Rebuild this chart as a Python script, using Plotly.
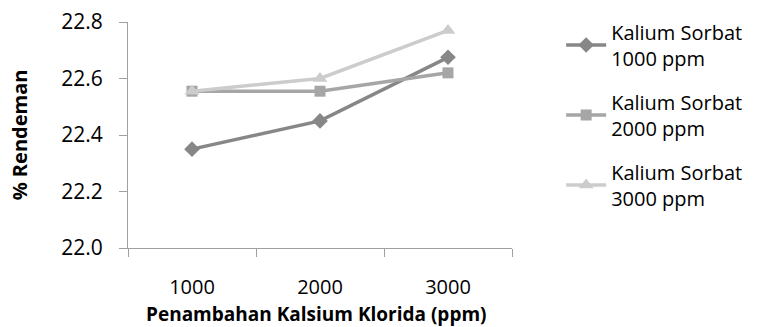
import plotly.graph_objects as go

categories = ["1000", "2000", "3000"]
s1000 = [22.35, 22.45, 22.675]
s2000 = [22.555, 22.555, 22.62]
s3000 = [22.555, 22.60, 22.77]
series_names = ["Kalium Sorbat<br>1000 ppm", "Kalium Sorbat<br>2000 ppm", "Kalium Sorbat<br>3000 ppm"]
y_ticks = [22.0, 22.2, 22.4, 22.6, 22.8]
x_title = "Penambahan Kalsium Klorida (ppm)"

FONT = "Open Sans"
fig = go.Figure()
styles = [
    ("#878787", "diamond", 12),
    ("#a6a6a6", "square", 11),
    ("#cccccc", "triangle-up", 13),
]
for i, (name, vals, (col, sym, sz)) in enumerate(zip(series_names, [s1000, s2000, s3000], styles)):
    fig.add_trace(go.Scatter(
        x=categories, y=vals, name=name, mode="lines+markers",
        legendgroup=f"g{i}",
        line=dict(color=col, width=3.5),
        marker=dict(symbol=sym, size=sz, color=col),
    ))

fig.update_layout(
    width=765, height=327,
    margin=dict(l=128, r=253, t=22, b=79),
    paper_bgcolor="white", plot_bgcolor="white",
    font=dict(family=FONT, color="black", size=20),
    showlegend=True,
    legend=dict(x=1.128, xanchor="left", y=1.042, yanchor="top",
                font=dict(size=20, family=FONT), tracegroupgap=15,
                itemwidth=40, bgcolor="rgba(0,0,0,0)", maxheight=1.0),
    annotations=[dict(
        text=f"<b>{x_title}</b>", xref="paper", yref="paper",
        x=0.49, y=0.0, yshift=-66, xanchor="center", yanchor="middle",
        showarrow=False, font=dict(size=19, family=FONT, color="black"),
    )],
)
fig.update_xaxes(
    type="category", range=[-0.5, 2.5], automargin=False,
    showline=True, linecolor="#a0a0a0", linewidth=1,
    ticks="outside", ticklen=8, tickcolor="#a0a0a0", tickson="boundaries",
    ticklabelstandoff=21, showgrid=False, zeroline=False,
    tickfont=dict(size=20),
)
fig.update_yaxes(
    range=[22.0, 22.8], tickvals=y_ticks, tickformat=".1f", automargin=False,
    showline=True, linecolor="#a0a0a0", linewidth=1,
    ticks="outside", ticklen=8, tickcolor="#a0a0a0",
    ticklabelstandoff=12,
    showgrid=False, zeroline=False,
    tickfont=dict(size=21),
    title=dict(text="<b>% Rendeman</b>", font=dict(size=20), standoff=28),
)
fig.write_html("out.html")
